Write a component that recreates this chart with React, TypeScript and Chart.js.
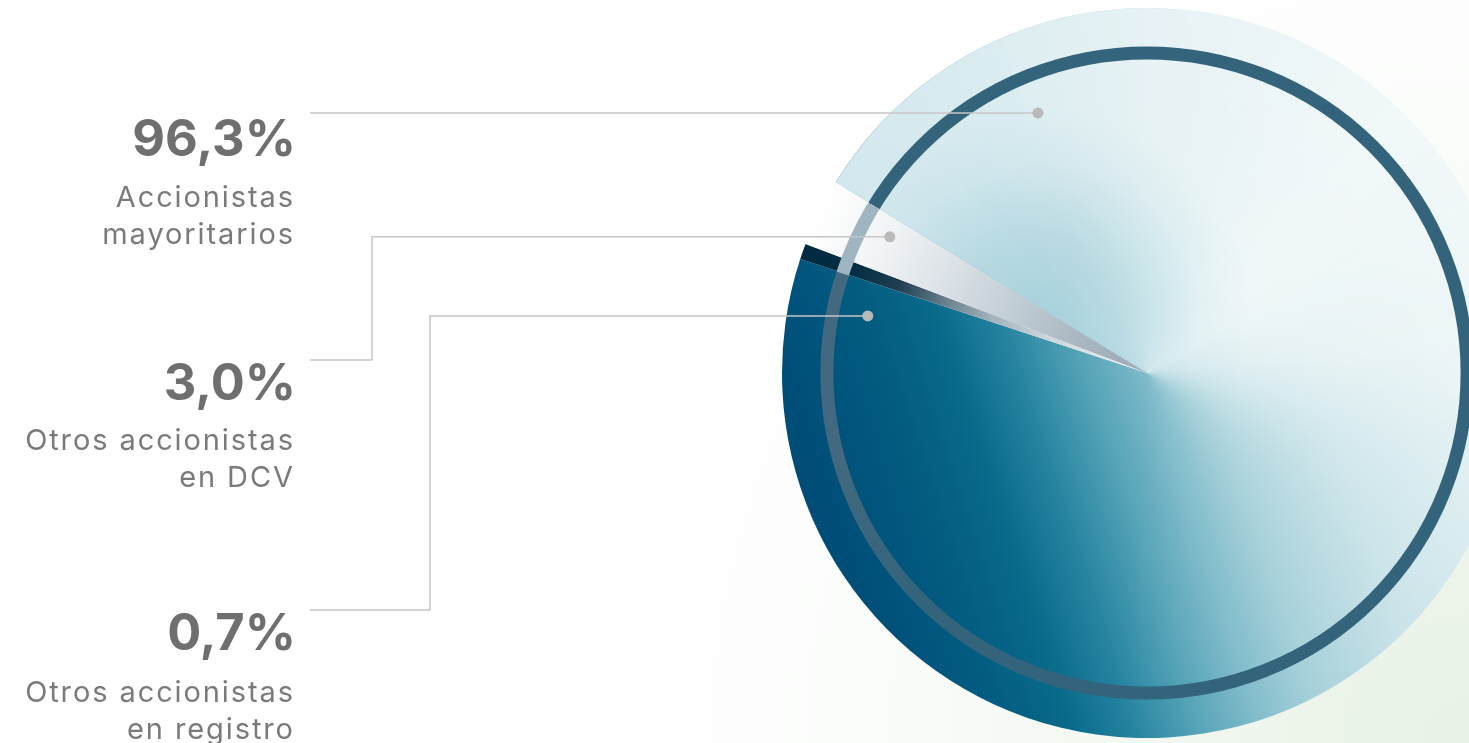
import React, { useEffect, useRef } from "react";
import { Chart, registerables } from "chart.js";

Chart.register(...registerables);

// ---- data ----
const categories = ["Accionistas mayoritarios", "Otros accionistas en registro", "Otros accionistas en DCV"];
const shares = [96.3, 0.7, 3.0];
const shareLabels = ["96,3%", "0,7%", "3,0%"];
const captionLines = [["Accionistas", "mayoritarios"], ["Otros accionistas", "en registro"], ["Otros accionistas", "en DCV"]];
const startAngleDeg = 301.5;

// ---- layout (styles / positions, not data) ----
const VIEW_W = 1469;
const VIEW_H = 743;
const CANVAS_W = 1520;
const TEXT_RIGHT = 293;
const VALUE_RIGHT = 296;
const LINE_START = 310;
const CAPTION_SPACING = 1.9;
// per slice: value baseline, caption baselines, elbow x (null = straight), dot polar (deg clockwise from top, radius px)
const annot = [
  { valueY: 156, capY: [207, 244], elbowX: null, startY: 113, dotDeg: 337.25, dotR: 282 },
  { valueY: 650, capY: [702, 739], elbowX: 430, startY: 610, dotDeg: 281.55, dotR: 285 },
  { valueY: 400, capY: [450, 487], elbowX: 372, startY: 360, dotDeg: 297.9, dotR: 291 },
];

const rad = (d: number) => (d * Math.PI) / 180;
const off = (th: number) => ((((th - startAngleDeg) % 360) + 360) % 360) / 360;

function areaGeom(chart: any) {
  const a = chart.chartArea;
  const cx = (a.left + a.right) / 2;
  const cy = (a.top + a.bottom) / 2;
  const R = Math.min(a.right - a.left, a.bottom - a.top) / 2;
  return { cx, cy, R };
}

function sliceFill(c: any) {
  const chart = c.chart;
  if (!chart.chartArea) return "#5aa0b5";
  const ctx = chart.ctx as CanvasRenderingContext2D;
  const { cx, cy, R } = areaGeom(chart);
  if (c.dataIndex === 0) {
    const t = rad(18);
    const dx = Math.cos(t), dy = -Math.sin(t);
    const g = ctx.createLinearGradient(cx - dx * R, cy - dy * R, cx + dx * R, cy + dy * R);
    g.addColorStop(0, "#004c76");
    g.addColorStop(0.03, "#004e78");
    g.addColorStop(0.15, "#035b80");
    g.addColorStop(0.25, "#096a8a");
    g.addColorStop(0.33, "#2583a0");
    g.addColorStop(0.42, "#55a3b7");
    g.addColorStop(0.5, "#7fbbca");
    g.addColorStop(0.58, "#a2ced8");
    g.addColorStop(0.72, "#c8e2e8");
    g.addColorStop(0.9, "#e6f2f4");
    g.addColorStop(1, "#f2f8f8");
    return g;
  }
  const g = ctx.createRadialGradient(cx, cy, 0, cx, cy, R);
  if (c.dataIndex === 1) {
    g.addColorStop(0, "#f2f5f7");
    g.addColorStop(0.28, "#cfd7dc");
    g.addColorStop(0.45, "#a3b2bb");
    g.addColorStop(0.58, "#6c8390");
    g.addColorStop(0.72, "#1f3e50");
    g.addColorStop(0.85, "#022d44");
    g.addColorStop(1, "#002a40");
  } else {
    g.addColorStop(0, "#9aaab6");
    g.addColorStop(0.2, "#a8b6c1");
    g.addColorStop(0.42, "#c3ced6");
    g.addColorStop(0.62, "#dde3e8");
    g.addColorStop(0.8, "#f0f3f5");
    g.addColorStop(1, "#ffffff");
  }
  return g;
}

let layer: HTMLCanvasElement | null = null;

const decorPlugin = {
  id: "decor",
  afterDatasetsDraw(chart: any) {
    const ctx = chart.ctx as CanvasRenderingContext2D;
    const meta = chart.getDatasetMeta(0);
    const big = meta.data[0] as any;
    const cx = big.x, cy = big.y, R = big.outerRadius;
    const total = shares.reduce((a, b) => a + b, 0);
    const bigFrac = shares[0] / total;

    // light overlay on the upper part of the big slice (built off-screen, masked by angle)
    if (!layer) layer = document.createElement("canvas");
    layer.width = chart.canvas.width;
    layer.height = chart.canvas.height;
    const dpr = chart.currentDevicePixelRatio || 1;
    const o = layer.getContext("2d") as any;
    o.setTransform(dpr, 0, 0, dpr, 0, 0);
    o.clearRect(0, 0, chart.width, chart.height);
    const b = o.createConicGradient(big.startAngle, cx, cy);
    b.addColorStop(0, "#d3e8ee");
    b.addColorStop(off(330), "#dcedf1");
    b.addColorStop(off(0), "#e7f3f5");
    b.addColorStop(off(45), "#f1f8f9");
    b.addColorStop(off(85), "#eef6f7");
    b.addColorStop(off(120), "#d6eaee");
    b.addColorStop(off(150), "#c4e0e6");
    b.addColorStop(1, "#c4e0e6");
    o.fillStyle = b;
    o.fillRect(cx - R, cy - R, 2 * R, 2 * R);
    const rx = cx - 0.29 * R, ry = cy - 0.145 * R;
    const rg = o.createRadialGradient(rx, ry, 0, rx, ry, 0.58 * R);
    rg.addColorStop(0, "rgba(140,194,208,0.62)");
    rg.addColorStop(0.4, "rgba(140,194,208,0.4)");
    rg.addColorStop(0.75, "rgba(140,194,208,0.1)");
    rg.addColorStop(1, "rgba(140,194,208,0)");
    o.fillStyle = rg;
    o.fillRect(cx - R, cy - R, 2 * R, 2 * R);
    o.globalCompositeOperation = "destination-in";
    const m = o.createConicGradient(big.startAngle, cx, cy);
    m.addColorStop(0, "rgba(0,0,0,1)");
    m.addColorStop(off(60), "rgba(0,0,0,0.95)");
    m.addColorStop(off(100), "rgba(0,0,0,0.7)");
    m.addColorStop(off(130), "rgba(0,0,0,0.35)");
    m.addColorStop(off(160), "rgba(0,0,0,0.08)");
    m.addColorStop(off(185), "rgba(0,0,0,0)");
    m.addColorStop(1, "rgba(0,0,0,0)");
    o.fillStyle = m;
    o.fillRect(cx - R, cy - R, 2 * R, 2 * R);
    o.globalCompositeOperation = "source-over";

    ctx.save();
    ctx.beginPath();
    ctx.moveTo(cx, cy);
    ctx.arc(cx, cy, R, big.startAngle, big.endAngle);
    ctx.closePath();
    ctx.clip();
    ctx.drawImage(layer, 0, 0, chart.width, chart.height);
    ctx.restore();

    // inner ring
    ctx.save();
    const ring = (ctx as any).createConicGradient(big.startAngle, cx, cy);
    ring.addColorStop(0, "#33647c");
    ring.addColorStop(off(225), "#33647c");
    ring.addColorStop(off(255), "#42697f");
    ring.addColorStop(bigFrac - 0.0005, "#42697f");
    ring.addColorStop(bigFrac, "#a0b5c2");
    ring.addColorStop(1, "#a0b5c2");
    ctx.strokeStyle = ring;
    ctx.lineWidth = 13;
    ctx.beginPath();
    ctx.arc(cx, cy, R * 0.877, 0, Math.PI * 2);
    ctx.stroke();
    ctx.restore();

    // leader lines + dots
    ctx.save();
    ctx.strokeStyle = "#c6c6c6";
    ctx.lineWidth = 1.5;
    ctx.fillStyle = "#b9b9b9";
    annot.forEach((a) => {
      const dx = cx + a.dotR * Math.sin(rad(a.dotDeg));
      const dy = cy - a.dotR * Math.cos(rad(a.dotDeg));
      ctx.beginPath();
      ctx.moveTo(LINE_START, a.startY);
      if (a.elbowX !== null) {
        ctx.lineTo(a.elbowX, a.startY);
        ctx.lineTo(a.elbowX, dy);
      }
      ctx.lineTo(dx, dy);
      ctx.stroke();
      ctx.beginPath();
      ctx.arc(dx, dy, 5.5, 0, Math.PI * 2);
      ctx.fill();
    });
    ctx.restore();

    // texts
    ctx.save();
    ctx.textAlign = "right";
    ctx.textBaseline = "alphabetic";
    annot.forEach((a, i) => {
      ctx.fillStyle = "#6f6f6f";
      ctx.font = "700 50.5px Inter";
      (ctx as any).letterSpacing = "0px";
      ctx.fillText(shareLabels[i], VALUE_RIGHT, a.valueY);
      ctx.fillStyle = "#7a7a7a";
      ctx.font = "400 29px Inter";
      (ctx as any).letterSpacing = CAPTION_SPACING + "px";
      captionLines[i].forEach((line, j) => ctx.fillText(line, TEXT_RIGHT + CAPTION_SPACING, a.capY[j]));
    });
    ctx.restore();
  },
};

export default function App() {
  const ref = useRef<HTMLCanvasElement | null>(null);
  useEffect(() => {
    if (!ref.current) return;
    const chart = new Chart(ref.current, {
      type: "pie",
      data: {
        labels: categories,
        datasets: [
          {
            data: shares,
            backgroundColor: sliceFill as any,
            borderWidth: 0,
          },
        ],
      },
      options: {
        responsive: false,
        animation: false,
        rotation: startAngleDeg,
        layout: { padding: { left: 782, right: 8, top: 8, bottom: 5 } },
        plugins: { legend: { display: false }, tooltip: { enabled: false } },
        events: [],
      },
      plugins: [decorPlugin],
    });
    return () => chart.destroy();
  }, []);
  return (
    <div
      style={{
        position: "fixed",
        left: 0,
        top: 0,
        width: VIEW_W,
        height: VIEW_H,
        overflow: "hidden",
        background:
          "radial-gradient(circle at 100% 100%, #e8f2e6 0%, #f1f7ef 18%, #fbfdfb 38%, #ffffff 55%)",
      }}
    >
      <canvas ref={ref} width={CANVAS_W} height={VIEW_H} style={{ position: "absolute", left: 0, top: 0 }} />
    </div>
  );
}
